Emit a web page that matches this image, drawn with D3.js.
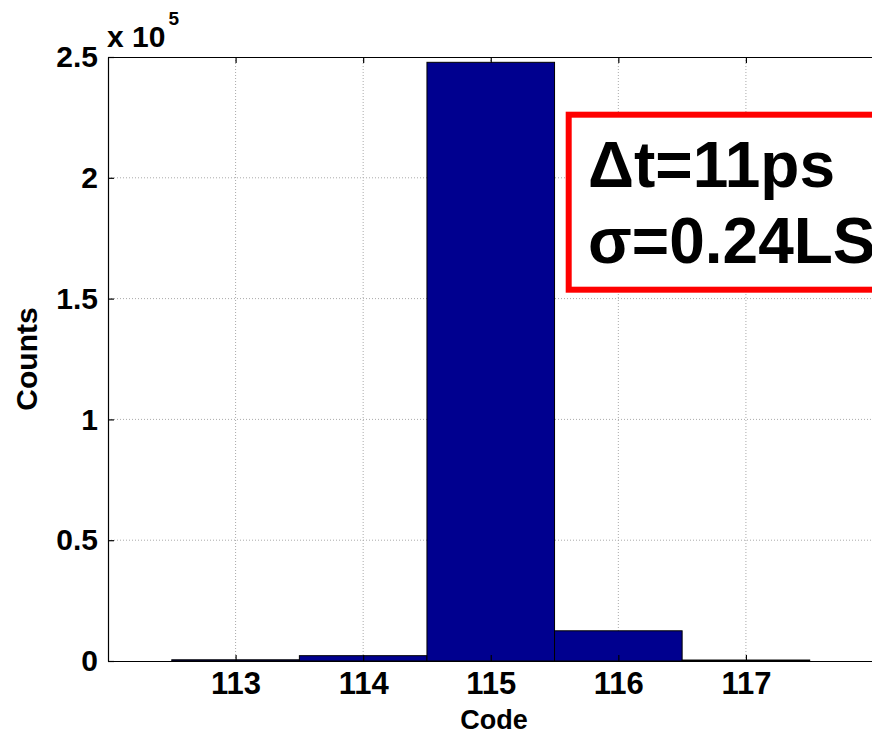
<!DOCTYPE html>
<html>
<head>
<meta charset="utf-8">
<script src="https://cdn.jsdelivr.net/npm/d3@7"></script>
<style>
	body { margin: 0; background: #fff; }
	svg { display: block; overflow: hidden; }
	text { font-family: Arial, "Liberation Sans", Helvetica, sans-serif; font-weight: bold; fill: #000; }
</style>
</head>
<body>
<div id="vis"></div>
<script>
// data
const CODES = [113, 114, 115, 116, 117];
const COUNTS = [500, 2200, 247800, 12500, 400];
const X_TICKS = [113, 114, 115, 116, 117];
const Y_TICKS = [0, 50000, 100000, 150000, 200000, 250000];
const Y_TICK_LABELS = ["0", "0.5", "1", "1.5", "2", "2.5"];
const NOTE_LINES = ["\u0394t=11ps", "\u03c3=0.24LSB"];

// declare constants
const FRAME_WIDTH = 872;
const FRAME_HEIGHT = 734;
const PLOT = {left: 108, right: 873.5, top: 57, bottom: 661};

const FRAME =
d3.select("#vis")
	.append("svg")
		.attr("width", FRAME_WIDTH)
		.attr("height", FRAME_HEIGHT);

FRAME.append("rect")
		.attr("width", FRAME_WIDTH)
		.attr("height", FRAME_HEIGHT)
		.style("fill", "#fff");

// scales
const X_SCALE = d3.scaleLinear()
					.domain([112, 118])
					.range([PLOT.left, PLOT.right]);
const Y_SCALE = d3.scaleLinear()
					.domain([0, 250000])
					.range([PLOT.bottom, PLOT.top]);

// dotted grid
FRAME.selectAll(".vgrid")
		.data(X_TICKS)
		.enter()
		.append("line")
			.attr("x1", (d) => X_SCALE(d))
			.attr("x2", (d) => X_SCALE(d))
			.attr("y1", PLOT.top)
			.attr("y2", PLOT.bottom)
			.style("stroke", "#aaa")
			.style("stroke-width", 1)
			.style("stroke-dasharray", "1,2");

FRAME.selectAll(".hgrid")
		.data(Y_TICKS.slice(1, -1))
		.enter()
		.append("line")
			.attr("x1", PLOT.left)
			.attr("x2", PLOT.right)
			.attr("y1", (d) => Y_SCALE(d))
			.attr("y2", (d) => Y_SCALE(d))
			.style("stroke", "#aaa")
			.style("stroke-width", 1)
			.style("stroke-dasharray", "1,2");

// bars (bin width 1, centred on each code)
FRAME.selectAll(".bar")
		.data(CODES)
		.enter()
		.append("rect")
			.attr("class", "bar")
			.attr("x", (d) => X_SCALE(d - 0.5))
			.attr("y", (d, i) => Y_SCALE(COUNTS[i]))
			.attr("width", (d) => X_SCALE(d + 0.5) - X_SCALE(d - 0.5))
			.attr("height", (d, i) => PLOT.bottom - Y_SCALE(COUNTS[i]))
			.style("fill", "#00008f")
			.style("stroke", "#000")
			.style("stroke-width", 1);

// x axis (ticks point inward)
const X_AXIS = FRAME.append("g")
		.attr("transform", "translate(0," + PLOT.bottom + ")")
		.call(d3.axisBottom(X_SCALE).tickValues(X_TICKS).tickFormat(d3.format("d"))
				.tickSizeInner(-6).tickSizeOuter(0).tickPadding(11));
X_AXIS.selectAll("text").attr("font-size", "31px");

// top edge with ticks
FRAME.append("g")
		.attr("transform", "translate(0," + PLOT.top + ")")
		.call(d3.axisTop(X_SCALE).tickValues(X_TICKS).tickFormat("")
				.tickSizeInner(-6).tickSizeOuter(0));

// y axis
const Y_AXIS = FRAME.append("g")
		.attr("transform", "translate(" + PLOT.left + ",0)")
		.call(d3.axisLeft(Y_SCALE).tickValues(Y_TICKS)
				.tickFormat((d, i) => Y_TICK_LABELS[i])
				.tickSizeInner(-6).tickSizeOuter(0).tickPadding(10));
Y_AXIS.selectAll("text").attr("font-size", "30px");

FRAME.selectAll(".domain, .tick line").style("stroke", "#000").style("stroke-width", 1.2);
FRAME.selectAll("g").attr("font-family", null);

// exponent label
const EXP = FRAME.append("text")
		.attr("x", 107)
		.attr("y", 47)
		.attr("font-size", "30px")
		.text("x 10");
EXP.append("tspan")
		.attr("dx", 3)
		.attr("dy", -22)
		.attr("font-size", "19px")
		.text("5");

// axis titles
FRAME.append("text")
		.attr("transform", "translate(37," + ((PLOT.top + PLOT.bottom) / 2) + ") rotate(-90)")
		.attr("text-anchor", "middle")
		.attr("font-size", "30px")
		.text("Counts");

FRAME.append("text")
		.attr("x", 494)
		.attr("y", 729)
		.attr("text-anchor", "middle")
		.attr("font-size", "27px")
		.text("Code");

// annotation box
FRAME.append("rect")
		.attr("x", 568.7)
		.attr("y", 114.7)
		.attr("width", 400)
		.attr("height", 175)
		.style("fill", "#fff")
		.style("stroke", "#ff0000")
		.style("stroke-width", 6);

FRAME.selectAll(".note")
		.data(NOTE_LINES)
		.enter()
		.append("text")
			.attr("x", 588)
			.attr("y", (d, i) => 187 + i * 76)
			.attr("font-size", "64px")
			.text((d) => d);
</script>
</body>
</html>
